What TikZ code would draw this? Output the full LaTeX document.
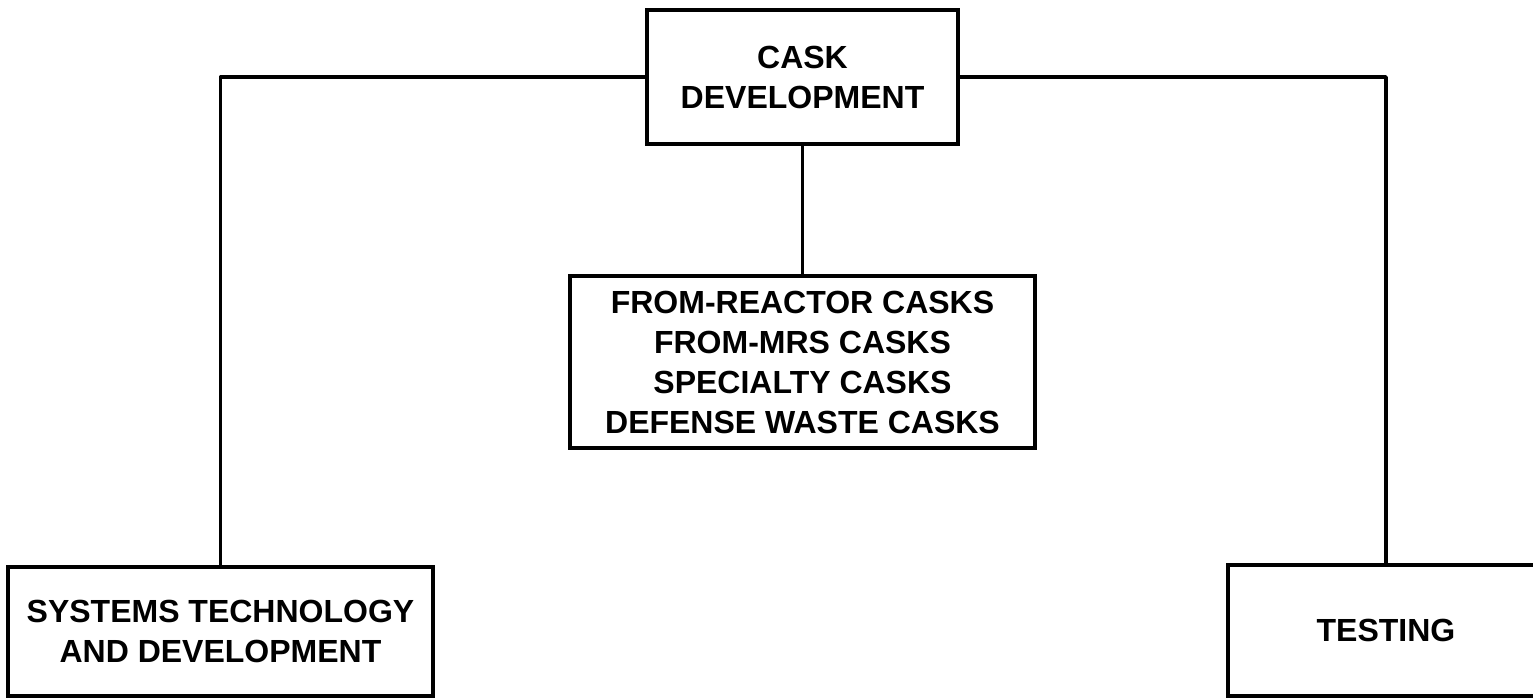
\documentclass[tikz,border=0pt]{standalone}
\usepackage{fontspec}
\setmainfont{Liberation Sans}
\begin{document}
\begin{tikzpicture}[x=1pt,y=-1pt,
  boxnode/.style={draw=black, line width=3.5pt, fill=white, inner sep=0pt, align=center,
    font=\fontsize{32}{40}\selectfont\bfseries},
  link/.style={draw=black, line width=3.5pt, line join=round}]
\useasboundingbox (0,0) rectangle (1533,697);
\fill[white] (0,0) rectangle (1533,697);
\node[boxnode, minimum width=311pt, minimum height=134pt] (top) at (802.5,77) {CASK\\DEVELOPMENT};
\node[boxnode, minimum width=465pt, minimum height=172pt] (mid) at (802.5,362)
  {FROM-REACTOR CASKS\\FROM-MRS CASKS\\SPECIALTY CASKS\\DEFENSE WASTE CASKS};
\node[boxnode, minimum width=425pt, minimum height=129pt] (left) at (220.5,631.5)
  {SYSTEMS TECHNOLOGY\\AND DEVELOPMENT};
\node[boxnode, minimum width=316pt, minimum height=131pt] (right) at (1386,630.5) {TESTING};
\draw[link] (top.west) -| (left.north);
\draw[link] (top.east) -| (right.north);
\draw[link] (top.south) -- (mid.north);
\end{tikzpicture}
\end{document}
